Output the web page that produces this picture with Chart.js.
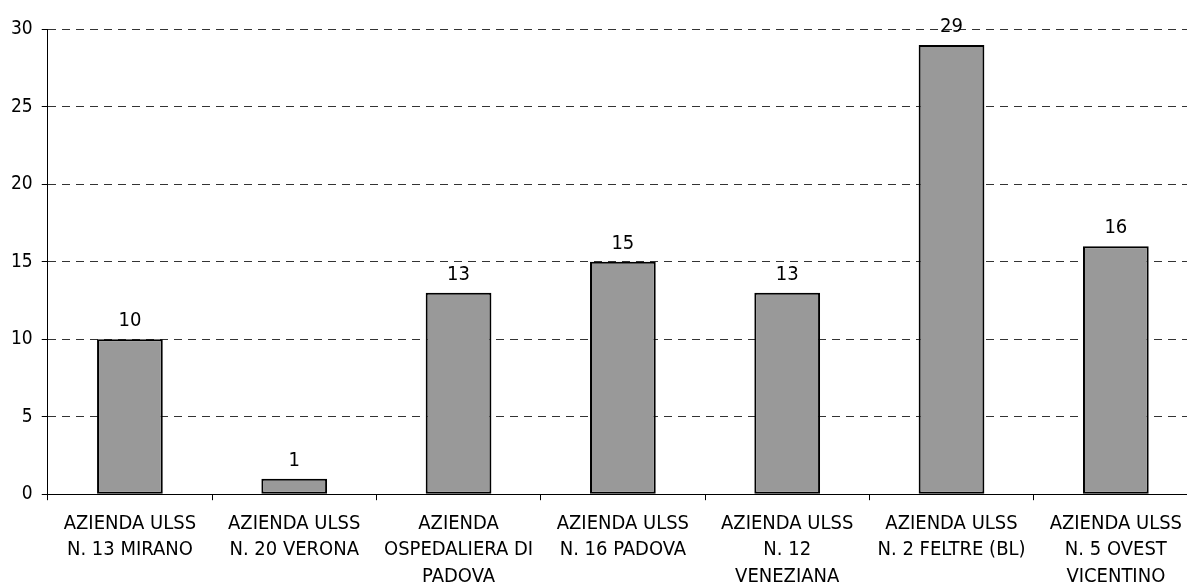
<!DOCTYPE html>
<html>
<head>
<meta charset="utf-8">
<script src="https://cdn.jsdelivr.net/npm/chart.js@4"></script>
<style>
  html, body { margin: 0; padding: 0; background: #fff; overflow: hidden; }
  .box { position: relative; width: 1198px; height: 600px; }
</style>
</head>
<body>
<div class="box"><canvas id="canvas_chart"></canvas></div>
<script>
// data
const categories = [
  ["AZIENDA ULSS", "N. 13 MIRANO"],
  ["AZIENDA ULSS", "N. 20 VERONA"],
  ["AZIENDA", "OSPEDALIERA DI", "PADOVA"],
  ["AZIENDA ULSS", "N. 16 PADOVA"],
  ["AZIENDA ULSS", "N. 12", "VENEZIANA"],
  ["AZIENDA ULSS", "N. 2 FELTRE (BL)"],
  ["AZIENDA ULSS", "N. 5 OVEST", "VICENTINO"]
];
const values = [10, 1, 13, 15, 13, 29, 16];
const yTicks = [0, 5, 10, 15, 20, 25, 30];

const fontFamily = "'DejaVu Sans Condensed', 'Liberation Sans Narrow', 'DejaVu Sans', sans-serif";

// numbers above the bars
const valueLabels = {
  id: 'valueLabels',
  afterDatasetsDraw(chart) {
    const ctx = chart.ctx;
    const meta = chart.getDatasetMeta(0);
    ctx.save();
    ctx.font = "20px " + fontFamily;
    ctx.fillStyle = "#000";
    ctx.textAlign = "center";
    ctx.textBaseline = "alphabetic";
    meta.data.forEach(function (bar, i) {
      ctx.fillText(values[i], bar.x, bar.y - 13);
    });
    ctx.restore();
  }
};

const getCanvas = document.getElementById("canvas_chart");
let configChart = {
  type: 'bar',
  data: {
    labels: categories,
    datasets: [{
      data: values,
      backgroundColor: "#999999",
      borderColor: "#000",
      borderWidth: 2,
      borderSkipped: false,
      barPercentage: 0.4,
      categoryPercentage: 1
    }]
  },
  options: {
    responsive: true,
    maintainAspectRatio: false,
    animation: false,
    layout: { padding: { top: 29.5, left: 2, right: 0, bottom: 0 } },
    plugins: {
      legend: { display: false },
      tooltip: { enabled: false }
    },
    scales: {
      x: {
        offset: true,
        grid: {
          offset: true,
          drawOnChartArea: false,
          tickLength: 6,
          tickColor: "#000"
        },
        border: { color: "#000", width: 1 },
        ticks: {
          color: "#000",
          maxRotation: 0,
          autoSkip: false,
          padding: 10,
          font: { family: fontFamily, size: 20, lineHeight: 1.33 }
        }
      },
      y: {
        min: 0,
        max: 30,
        afterBuildTicks(scale) {
          scale.ticks = yTicks.map(v => ({ value: v }));
        },
        grid: {
          color: "#333",
          lineWidth: 1,
          tickLength: 6,
          tickColor: "#000"
        },
        border: { color: "#000", width: 1, dash: [8, 6] },
        ticks: {
          color: "#000",
          padding: 9,
          font: { family: fontFamily, size: 19 }
        }
      }
    }
  },
  plugins: [valueLabels]
};
const canvas_chart = new Chart(getCanvas, configChart);
</script>
</body>
</html>
